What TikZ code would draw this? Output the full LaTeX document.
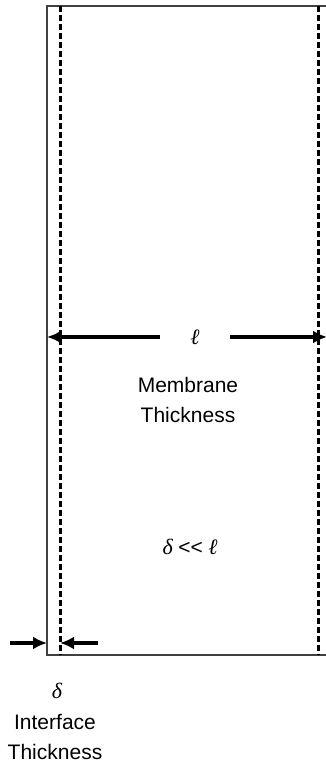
\documentclass[tikz,border=0pt]{standalone}
\usepackage{fontspec}
\setmainfont{Liberation Sans}
\newfontfamily\symfont{Liberation Serif}
\usepackage{tikz}
\usetikzlibrary{arrows.meta,positioning}

\begin{document}
\begin{tikzpicture}[x=1pt,y=1pt,
        wall/.style={draw=black!75, line width=1.5pt},
        iface/.style={draw=black, line width=3pt, dash pattern=on 6pt off 3pt},
        dim/.style={line width=3.2pt, -{Latex[length=14pt,width=13pt]}},
        lbl/.style={font=\fontsize{21}{30}\selectfont, align=center, inner sep=0pt},
        sym/.style={font=\fontsize{22}{30}\selectfont\symfont\itshape, inner sep=0pt}]
        \useasboundingbox (0,0) rectangle (326,765);
        % membrane outline and interface lines
        \draw[wall] (326,759) -- (47,759) -- (47,110) -- (326,110);
        \draw[iface] (60,759) -- (60,110);
        \draw[iface] (318,759) -- (318,110);
        % membrane thickness
        \coordinate (lwall) at (47,428);
        \coordinate (rwall) at (327,428);
        \node[sym, minimum width=70pt] (ell) at (195,428) {ℓ};
        \draw[dim] (ell.west) -- (lwall);
        \draw[dim] (ell.east) -- (rwall);
        \node[lbl] (mthick) at (188,365) {Membrane\\Thickness};
        \node[sym] (ratio) at (190,218) {δ {\upshape\rmfamily\fontsize{21}{30}\selectfont{<}{<}} ℓ};
        % interface thickness
        \coordinate (ifl) at (10,122);
        \coordinate (ifr) at (98,122);
        \draw[dim] (ifl) -- (47,122);
        \draw[dim] (ifr) -- (60,122);
        \node[sym] (delta) at (57,74) {δ};
        \node[lbl] (ithick) at (55,28) {Interface\\Thickness};
      \end{tikzpicture}
\end{document}
